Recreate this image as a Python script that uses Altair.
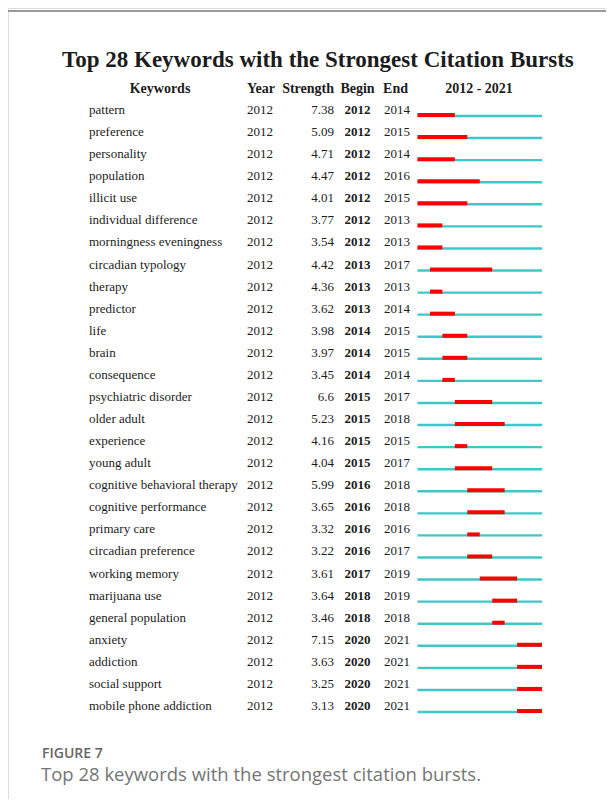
import altair as alt
import pandas as pd

keywords = [
    "pattern", "preference", "personality", "population", "illicit use",
    "individual difference", "morningness eveningness", "circadian typology",
    "therapy", "predictor", "life", "brain", "consequence", "psychiatric disorder",
    "older adult", "experience", "young adult", "cognitive behavioral therapy",
    "cognitive performance", "primary care", "circadian preference",
    "working memory", "marijuana use", "general population", "anxiety",
    "addiction", "social support", "mobile phone addiction",
]
years = [2012] * 28
strengths = [7.38, 5.09, 4.71, 4.47, 4.01, 3.77, 3.54, 4.42, 4.36, 3.62, 3.98,
             3.97, 3.45, 6.6, 5.23, 4.16, 4.04, 5.99, 3.65, 3.32, 3.22, 3.61,
             3.64, 3.46, 7.15, 3.63, 3.25, 3.13]
begins = [2012, 2012, 2012, 2012, 2012, 2012, 2012, 2013, 2013, 2013, 2014,
          2014, 2014, 2015, 2015, 2015, 2015, 2016, 2016, 2016, 2016, 2017,
          2018, 2018, 2020, 2020, 2020, 2020]
ends = [2014, 2015, 2014, 2016, 2015, 2013, 2013, 2017, 2013, 2014, 2015,
        2015, 2014, 2017, 2018, 2015, 2017, 2018, 2018, 2016, 2017, 2019,
        2019, 2018, 2021, 2021, 2021, 2021]
span_first, span_last = 2012, 2021

df = pd.DataFrame({
    "row": list(range(len(keywords))),
    "keyword": keywords,
    "year": [str(v) for v in years],
    "strength": [str(v) for v in strengths],
    "begin": [str(v) for v in begins],
    "end": [str(v) for v in ends],
    "b": begins,
    "e_next": [v + 1 for v in ends],
    "s0": [span_first] * len(keywords),
    "s1": [span_last + 1] * len(keywords),
})

SERIF = "Liberation Serif"
SANS = "Open Sans"
TXT = "#1c1c1c"

yscale = alt.Scale(domain=[0, 27], range=[106, 702])
Y = alt.Y("row:Q", scale=yscale, axis=None)
xscale = alt.Scale(domain=[span_first, span_last + 1], range=[409.5, 534])

base = alt.Chart(df)

def col(field, x, align, weight="normal"):
    return base.mark_text(align=align, baseline="alphabetic", font=SERIF,
                          fontSize=13, fontWeight=weight, color=TXT).encode(
        x=alt.value(x), y=Y, text=f"{field}:N")

def label(txt, x, y, size, align="center", weight="bold", font=SERIF, color=TXT):
    return alt.Chart(pd.DataFrame({"t": [txt]})).mark_text(
        align=align, baseline="alphabetic", font=font, fontSize=size,
        fontWeight=weight, color=color).encode(
        x=alt.value(x), y=alt.value(y), text="t:N")

cyan = base.mark_rule(color="#3FC6C6", strokeWidth=2.4, yOffset=2, strokeCap="butt").encode(
    x=alt.X("s0:Q", scale=xscale, axis=None), x2="s1:Q", y=Y)
red = base.mark_rule(color="#FF0000", strokeWidth=4, yOffset=1, strokeCap="butt").encode(
    x=alt.X("b:Q", scale=xscale, axis=None), x2="e_next:Q", y=Y)

frame_left = alt.Chart(pd.DataFrame({"a": [0]})).mark_rule(color="#999999", strokeWidth=2).encode(
    x=alt.value(-1), y=alt.value(3), y2=alt.value(800))
frame_top = alt.Chart(pd.DataFrame({"a": [0]})).mark_rule(color="#999999", strokeWidth=2).encode(
    x=alt.value(-2), x2=alt.value(610), y=alt.value(3))

layers = [
    frame_left, frame_top,
    label("Top 28 Keywords with the Strongest Citation Bursts", 54, 59, 23, align="left"),
    label("Keywords", 152, 85, 14),
    label("Year", 239, 85, 14, align="left"),
    label("Strength", 326, 85, 14, align="right"),
    label("Begin", 349.5, 85, 14),
    label("End", 387.5, 85, 14),
    label("2012 - 2021", 471, 85, 14),
    col("keyword", 81, "left"),
    col("year", 239, "left"),
    col("strength", 326, "right"),
    col("begin", 349.5, "center", "bold"),
    col("end", 376, "left"),
    cyan, red,
    label("FIGURE 7", 34, 750, 14, align="left", weight=600, font=SANS, color="#666666"),
    label("Top 28 keywords with the strongest citation bursts.", 33, 773, 18.5,
          align="left", weight="normal", font=SANS, color="#757575"),
]

chart = alt.layer(*layers).properties(
    width=598, height=791, autosize=alt.AutoSizeParams(type="none"), padding=0
).configure_view(stroke=None).configure(background="white")

chart.save("out.html", embed_options={"renderer": "svg", "actions": False})
